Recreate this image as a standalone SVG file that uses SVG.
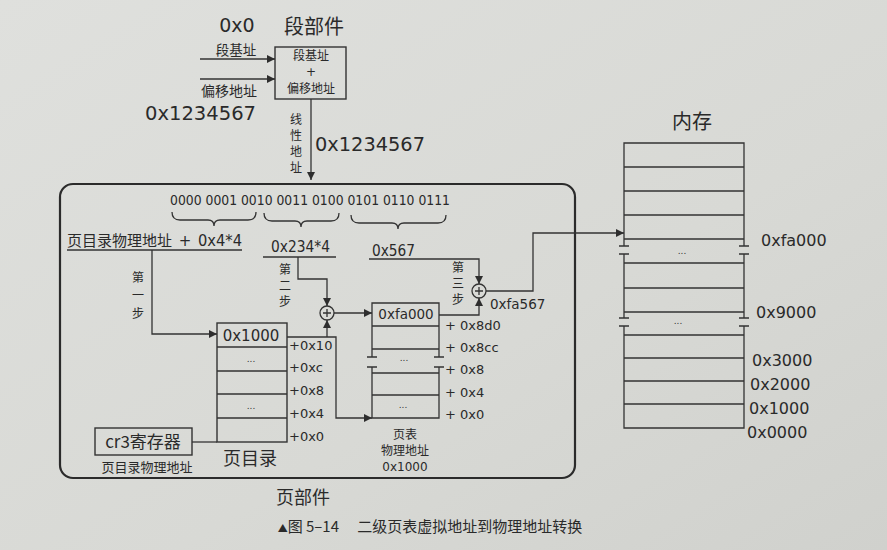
<svg xmlns="http://www.w3.org/2000/svg" width="887" height="550" viewBox="0 0 887 550">
  <defs>
    <linearGradient id="paper" x1="0" y1="0" x2="1" y2="1">
      <stop offset="0" stop-color="#dfe0dd"/>
      <stop offset="0.6" stop-color="#d8d9d5"/>
      <stop offset="1" stop-color="#d0d1cd"/>
    </linearGradient>
    <marker id="arr" viewBox="0 0 8 8" markerWidth="8" markerHeight="8" refX="8" refY="4" orient="auto" markerUnits="userSpaceOnUse">
      <path d="M0,0 L8,4 L0,8 z" fill="#2e2e2e"/>
    </marker>
  </defs>
  <style>
    .ln{fill:none;stroke:#333;stroke-width:1.3}
    .box{fill:none;stroke:#333;stroke-width:1.4}
    .frame{fill:none;stroke:#2b2b2b;stroke-width:2.2}
    .cn{font-family:"Noto Sans CJK SC","Noto Sans",sans-serif;fill:#2a2a2a}
    .hx{font-family:"DejaVu Sans","Noto Sans",sans-serif;fill:#2a2a2a}
    .mid{text-anchor:middle}
    .s12{font-size:12px}
    .s13{font-size:13px}
    .dots{font-family:"DejaVu Sans",sans-serif;font-size:9px;fill:#333;text-anchor:middle}
  </style>

  <rect x="0" y="0" width="887" height="550" fill="url(#paper)"/>

  <!-- segment unit -->
  <g id="segment-unit">
    <text class="hx mid" x="237" y="32" font-size="19">0x0</text>
    <text class="cn mid" x="314" y="34" font-size="20">段部件</text>
    <text class="cn mid" x="236" y="55" font-size="13.5">段基址</text>
    <text class="cn mid" x="229" y="96" font-size="14">偏移地址</text>
    <text class="hx" x="145" y="120" font-size="20" textLength="111" lengthAdjust="spacingAndGlyphs">0x1234567</text>
    <rect class="box" x="275" y="47" width="71" height="52"/>
    <text class="cn mid s12" x="311" y="60">段基址</text>
    <text class="hx mid s12" x="311" y="76">+</text>
    <text class="cn mid s12" x="311" y="93">偏移地址</text>
  </g>

  <g id="linear-address">
    <text class="cn mid s12" x="296" y="124">线</text>
    <text class="cn mid s12" x="296" y="140">性</text>
    <text class="cn mid s12" x="296" y="156">地</text>
    <text class="cn mid s12" x="296" y="172">址</text>
    <text class="hx" x="315" y="151" font-size="20" textLength="110" lengthAdjust="spacingAndGlyphs">0x1234567</text>
  </g>

  <!-- page unit frame -->
  <g id="page-unit">
    <rect class="frame" x="60" y="184" width="515" height="294" rx="13"/>
    <text class="cn mid" x="303" y="504" font-size="18">页部件</text>
  </g>

  <g id="address-bits">
    <text class="hx" x="170" y="205" font-size="13.5" textLength="280" lengthAdjust="spacingAndGlyphs">0000 0001 0010 0011 0100 0101 0110 0111</text>
    <path class="ln" d="M172,212 q0,8 8,8 H208 q6,0 6,6 q0,-6 6,-6 H248 q8,0 8,-8"/>
    <path class="ln" d="M264,213 q0,8 8,8 H295 q6,0 6,6 q0,-6 6,-6 H331 q8,0 8,-8"/>
    <path class="ln" d="M351,215 q0,8 8,8 H392 q6,0 6,6 q0,-6 6,-6 H438 q8,0 8,-8"/>
  </g>

  <g id="dir-index">
    <text class="cn" x="67" y="246" font-size="15">页目录物理地址</text>
    <text class="hx mid" x="185" y="246" font-size="15">+</text>
    <text class="hx" x="198" y="246" font-size="15" textLength="44" lengthAdjust="spacingAndGlyphs">0x4*4</text>
    <text class="cn mid s12" x="138" y="282">第</text>
    <text class="cn mid s12" x="138" y="300">一</text>
    <text class="cn mid s12" x="138" y="318">步</text>
  </g>

  <g id="table-index">
    <text class="hx" x="271" y="252" font-size="15" textLength="59" lengthAdjust="spacingAndGlyphs">0x234*4</text>
    <text class="cn mid s12" x="285" y="274">第</text>
    <text class="cn mid s12" x="285" y="290">二</text>
    <text class="cn mid s12" x="285" y="306">步</text>
  </g>

  <g id="offset">
    <text class="hx" x="372" y="256" font-size="15" textLength="43" lengthAdjust="spacingAndGlyphs">0x567</text>
    <text class="cn mid s12" x="458" y="272">第</text>
    <text class="cn mid s12" x="458" y="288">三</text>
    <text class="cn mid s12" x="458" y="304">步</text>
  </g>

  <g id="adder-1">
    <circle class="ln" cx="327" cy="313" r="7"/>
    <path class="ln" d="M323,313 H331 M327,309 V317"/>
  </g>

  <g id="adder-2">
    <circle class="ln" cx="479" cy="291" r="7"/>
    <path class="ln" d="M475,291 H483 M479,287 V295"/>
    <text class="hx" x="490" y="309" font-size="13.5">0xfa567</text>
  </g>

  <g id="cr3">
    <rect class="box" x="95" y="428" width="97" height="27"/>
    <text class="cn mid" x="143" y="448" font-size="17">cr3寄存器</text>
    <text class="cn mid s13" x="147" y="472">页目录物理地址</text>
  </g>

  <g id="page-directory">
    <rect class="box" x="217" y="323" width="70" height="119"/>
    <path class="ln" d="M217,347 H287 M217,371 H287 M217,394 H287 M217,418 H287"/>
    <text class="hx mid" x="251" y="341" font-size="15">0x1000</text>
    <text class="dots" x="251" y="362">...</text>
    <text class="dots" x="251" y="409">...</text>
    <g class="hx s13">
      <text x="289" y="350">+0x10</text>
      <text x="289" y="372">+0xc</text>
      <text x="289" y="395">+0x8</text>
      <text x="289" y="418">+0x4</text>
      <text x="289" y="441">+0x0</text>
    </g>
    <text class="cn mid" x="250" y="465" font-size="18">页目录</text>
  </g>

  <g id="page-table">
    <path class="ln" d="M372,357 V303 H439 V357 M372,367 V418 H439 V367"/>
    <path class="ln" d="M372,326 H439 M372,349 H439 M372,373 H439 M372,395 H439"/>
    <path class="ln" d="M367,357 H377 M367,367 H377 M434,357 H444 M434,367 H444"/>
    <text class="hx mid" x="406" y="319" font-size="13.5">0xfa000</text>
    <text class="dots" x="404" y="361">...</text>
    <text class="dots" x="403" y="408">...</text>
    <g class="hx s13">
      <text x="445" y="330">+ 0x8d0</text>
      <text x="445" y="352">+ 0x8cc</text>
      <text x="445" y="374">+ 0x8</text>
      <text x="445" y="397">+ 0x4</text>
      <text x="445" y="419">+ 0x0</text>
    </g>
    <text class="cn mid s12" x="405" y="439">页表</text>
    <text class="cn mid s12" x="405" y="455">物理地址</text>
    <text class="hx mid s12" x="405" y="471">0x1000</text>
  </g>

  <g id="memory">
    <text class="cn mid" x="692" y="129" font-size="20">内存</text>
    <path class="ln" d="M624,246 V143 H744 V246 M624,254 V318 M744,254 V318 M624,326 V428 H744 V326"/>
    <path class="ln" d="M624,167 H744 M624,191 H744 M624,215 H744 M624,239 H744 M624,263 H744 M624,288 H744 M624,312 H744 M624,335 H744 M624,358 H744 M624,381 H744 M624,404 H744"/>
    <path class="ln" d="M619,246 H629 M619,254 H629 M739,246 H749 M739,254 H749 M619,318 H629 M619,326 H629 M739,318 H749 M739,326 H749"/>
    <text class="dots" x="682" y="254">...</text>
    <text class="dots" x="678" y="324">...</text>
    <g class="hx" font-size="16">
      <text x="761" y="246">0xfa000</text>
      <text x="756" y="318">0x9000</text>
      <text x="752" y="366">0x3000</text>
      <text x="750" y="390">0x2000</text>
      <text x="749" y="414">0x1000</text>
      <text x="747" y="438">0x0000</text>
    </g>
  </g>

  <!-- connectors -->
  <g id="connectors">
    <path class="ln" d="M200,59 H275" marker-end="url(#arr)"/>
    <path class="ln" d="M200,79 H275" marker-end="url(#arr)"/>
    <path class="ln" d="M311,99 V180" marker-end="url(#arr)"/>
    <path class="ln" d="M67,250 H242"/>
    <path class="ln" d="M263,257 H336"/>
    <path class="ln" d="M369,259 H479 V284" marker-end="url(#arr)"/>
    <path class="ln" d="M152,250 V334 H217" marker-end="url(#arr)"/>
    <path class="ln" d="M298,257 V279 H327 V306" marker-end="url(#arr)"/>
    <path class="ln" d="M287,337 H336 V418 H372" marker-end="url(#arr)"/>
    <path class="ln" d="M327,337 V320" marker-end="url(#arr)"/>
    <path class="ln" d="M334,313 H372" marker-end="url(#arr)"/>
    <path class="ln" d="M439,315 H479 V298" marker-end="url(#arr)"/>
    <path class="ln" d="M486,291 H533 V233 H624" marker-end="url(#arr)"/>
    <path class="ln" d="M192,442 H217"/>
  </g>

  <g id="caption">
    <text class="cn mid" x="430" y="532" font-size="15"><tspan font-size="10">▲</tspan>图 5–14　 二级页表虚拟地址到物理地址转换</text>
  </g>
</svg>
